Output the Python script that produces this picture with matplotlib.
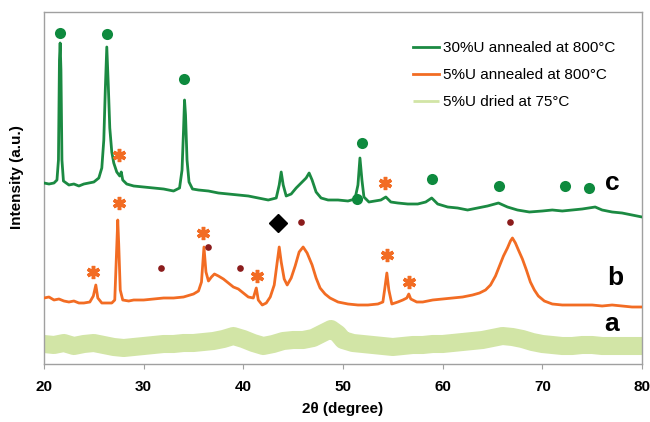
import numpy as np
import matplotlib
matplotlib.use('Agg')
import matplotlib.pyplot as plt

plt.rcParams['font.family'] = ['Liberation Sans', 'DejaVu Sans']

# ---- data (2theta in degree, intensity in a.u.) ----
# c : 30%U annealed at 800C
c_x = [20.0, 20.5, 21.0, 21.3, 21.45, 21.55, 21.62, 21.7, 21.8, 21.95, 22.5, 23.0, 23.5, 24.0,
       24.5, 25.0, 25.5, 25.8, 26.0, 26.15, 26.3, 26.45, 26.6, 26.8, 27.0, 27.3, 27.6, 27.75,
       27.9, 28.3, 29.0, 30.0, 31.0, 32.0, 33.0, 33.6, 33.85, 34.0, 34.1, 34.2, 34.35, 34.55,
       34.9, 35.5, 36.5, 37.5, 38.5, 39.5, 40.5, 41.5, 42.5, 43.3, 43.6, 43.8, 44.0, 44.3,
       44.8, 45.3, 45.8, 46.3, 46.6, 46.9, 47.3, 47.8, 48.5, 49.5, 50.5, 51.2, 51.5, 51.7,
       51.9, 52.1, 52.6, 53.2, 53.8, 54.3, 54.8, 55.5, 56.5, 57.5, 58.3, 58.9, 59.5, 60.5,
       61.5, 62.5, 63.5, 64.5, 65.6, 66.5, 67.5, 68.7, 70.0, 71.0, 72.0, 73.0, 74.0, 75.3,
       76.0, 77.0, 78.0, 79.0, 80.0]
c_y = [181, 180, 181, 184, 204, 304, 321, 294, 204, 183, 179, 180, 178, 180,
       181, 182, 186, 196, 224, 274, 317, 279, 236, 212, 201, 192, 188, 192,
       184, 180, 178, 177, 176, 175, 173, 176, 194, 234, 264, 249, 204, 182,
       175, 174, 173, 171, 170, 169, 168, 166, 164, 166, 179, 192, 179, 168,
       170, 176, 181, 186, 191, 184, 172, 166, 164, 164, 163, 165, 179, 206,
       184, 167, 162, 163, 164, 167, 162, 161, 160, 160, 162, 166, 160, 157,
       156, 154, 156, 158, 161, 157, 154, 152, 153, 154, 153, 154, 155, 157,
       154, 152, 151, 149, 147]

# b : 5%U annealed at 800C
b_x = [20.0, 20.5, 21.0, 21.5, 22.0, 22.5, 23.0, 23.5, 24.0, 24.6, 24.95, 25.2, 25.4, 25.8,
       26.3, 26.8, 27.1, 27.25, 27.4, 27.5, 27.65, 27.9, 28.5, 29.0, 30.0, 31.0, 32.0, 33.0,
       34.0, 35.0, 35.5, 35.8, 36.05, 36.25, 36.5, 36.8, 37.1, 37.5, 38.0, 38.5, 39.0, 39.5,
       40.0, 40.5, 41.0, 41.3, 41.5, 41.9, 42.3, 42.7, 43.1, 43.4, 43.6, 43.8, 44.1, 44.4,
       44.8, 45.2, 45.6, 46.0, 46.4, 46.9, 47.3, 47.7, 48.2, 48.7, 49.5, 50.5, 51.5, 52.5,
       53.5, 54.0, 54.2, 54.4, 54.6, 54.9, 55.5, 56.0, 56.4, 56.6, 56.8, 57.4, 58.0, 59.0,
       60.0, 61.0, 62.0, 63.0, 63.7, 64.3, 64.8, 65.3, 65.7, 66.1, 66.5, 66.8, 67.0, 67.3,
       67.6, 68.0, 68.4, 68.8, 69.2, 69.6, 70.2, 71.0, 72.0, 73.0, 74.0, 75.0, 76.0, 77.0,
       78.0, 79.0, 80.0]
b_y = [66, 67, 64, 65, 63, 62, 63, 61, 61, 62, 68, 79, 66, 61,
       61, 61, 64, 104, 144, 119, 74, 64, 63, 64, 64, 65, 66, 66,
       67, 70, 73, 82, 117, 92, 83, 87, 90, 88, 85, 81, 77, 75,
       71, 67, 66, 76, 64, 59, 61, 67, 79, 102, 117, 102, 85, 79,
       86, 98, 112, 117, 111, 99, 86, 76, 70, 66, 62, 60, 59, 59,
       60, 62, 76, 91, 74, 60, 62, 64, 66, 70, 65, 62, 62, 64,
       65, 66, 67, 69, 71, 74, 79, 88, 98, 108, 116, 123, 126, 121,
       114, 105, 94, 82, 74, 68, 63, 60, 59, 59, 59, 59, 58, 59,
       58, 57, 57]

# a : 5%U dried at 75C
a_x = [20, 21, 22, 23, 24, 25, 26, 27, 28, 29, 30, 31, 32, 33, 34, 35, 36, 37, 38, 39,
       40, 41, 42, 43, 44, 45, 46, 47, 48, 48.8, 49.5, 50, 51, 52, 53, 54, 55, 56, 57,
       58, 59, 60, 61, 62, 63, 64, 65, 66, 67, 68, 69, 70, 71, 72, 73, 74, 75, 76, 77,
       78, 79, 80]
a_y = [20, 19, 21, 18, 20, 21, 19, 17, 16, 17, 18, 19, 20, 20, 21, 21, 22, 23, 25, 28,
       25, 21, 18, 20, 23, 24, 24, 26, 31, 35, 30, 24, 21, 20, 19, 18, 17, 18, 19,
       19, 20, 20, 21, 22, 23, 24, 26, 28, 27, 25, 22, 20, 19, 18, 18, 19, 19, 18, 18,
       18, 18, 18]

# phase markers
circle_x = [21.6, 26.3, 34.0, 51.9, 51.4, 58.9, 65.7, 72.3, 74.7]
circle_y = [331, 330, 285, 221, 165, 185, 178, 178, 176]
star_x = [24.9, 27.5, 27.5, 36.0, 41.4, 54.4, 56.6, 54.2]
star_y = [92, 161, 209, 131, 88, 109, 82, 181]
dot_x = [31.7, 36.5, 39.7, 45.8, 66.8]
dot_y = [96, 117, 96, 142, 142]
diamond_x = [43.5]
diamond_y = [141]

labels = ['30%U annealed at 800°C', '5%U annealed at 800°C', '5%U dried at 75°C']
letters = ['c', 'b', 'a']
letter_x = [77.0, 77.3, 76.9]
letter_y = [181, 86, 40]

green = '#1b8a42'
orange = '#f26c23'
pale = '#d2e5a6'

fig = plt.figure(figsize=(6.5, 4.22), dpi=100)
ax = fig.add_axes([44/650, 58/422, 598/650, 352/422])

ax.plot(c_x, c_y, color=green, lw=2.0, label=labels[0], zorder=3)
ax.plot(b_x, b_y, color=orange, lw=2.0, label=labels[1], zorder=3)
ax.plot(a_x, a_y, color=pale, lw=13, solid_capstyle='butt', label=labels[2], zorder=2)

ax.plot(circle_x, circle_y, 'o', color='#0e8a3e', ms=8, mec='none', zorder=4)
ax.plot(star_x, star_y, marker=(6, 2, 0), ls='none', color=orange, ms=9.5, mew=2.5, zorder=4)
ax.plot(dot_x, dot_y, 'o', color='#8b1c1c', ms=4.8, mec='none', zorder=4)
ax.plot(diamond_x, diamond_y, 'D', color='black', ms=9, zorder=4)

for t, x, y in zip(letters, letter_x, letter_y):
    ax.text(x, y, t, fontsize=19, fontweight='bold', ha='center', va='center')

ax.set_xlim(20, 80)
ax.set_ylim(0, 352)
ax.set_xticks(np.arange(20, 81, 10))
ax.set_yticks([])
for s in ax.spines.values():
    s.set_color('#a0a0a0')
    s.set_linewidth(1)
ax.tick_params(axis='x', direction='out', length=3.5, color='#a0a0a0', labelsize=11, pad=8)
for lab in ax.get_xticklabels():
    lab.set_fontweight('bold')

ax.set_xlabel('2θ (degree)', fontsize=11, fontweight='bold')
ax.xaxis.set_label_coords(0.5, -0.108)
ax.set_ylabel('Intensity (a.u.)', fontsize=11, fontweight='bold')
ax.yaxis.set_label_coords(-0.033, 0.53)

leg = ax.legend(loc='upper left', bbox_to_anchor=(413/650, 1 - 41/422), bbox_transform=fig.transFigure,
                frameon=False, fontsize=11, handlelength=1.7, handletextpad=0.25, labelspacing=0.85,
                borderaxespad=0, borderpad=0)
leg.get_lines()[2].set_linewidth(2)

fig.savefig('out.png', dpi=100)
